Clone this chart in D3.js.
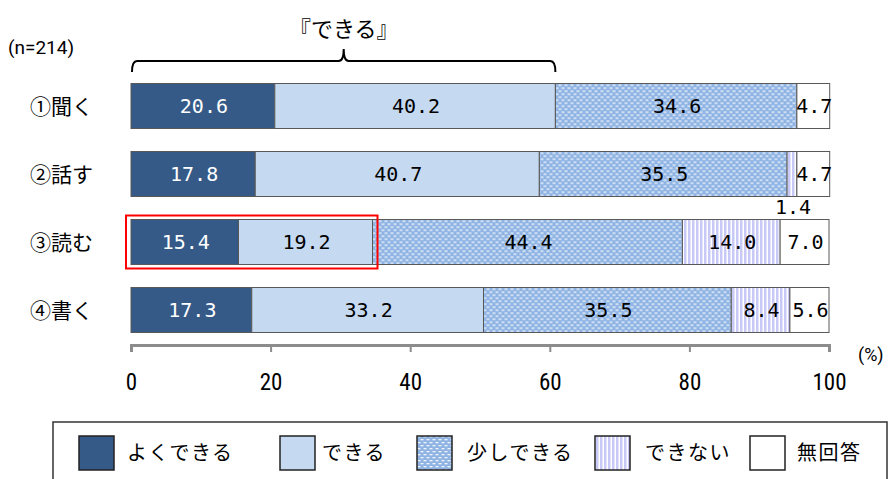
<!DOCTYPE html>
<html>
<head>
<meta charset="utf-8">
<script src="https://cdn.jsdelivr.net/npm/d3@7"></script>
<style>
  body { margin: 0; background: #fff; }
  svg { display: block; }
</style>
</head>
<body>
<div id="viz"></div>
<script>
var categories = ["①聞く", "②話す", "③読む", "④書く"];
var seriesNames = ["よくできる", "できる", "少しできる", "できない", "無回答"];
var yokuDekiru = [20.6, 17.8, 15.4, 17.3];
var dekiru = [40.2, 40.7, 19.2, 33.2];
var sukoshiDekiru = [34.6, 35.5, 44.4, 35.5];
var dekinai = [0, 1.4, 14.0, 8.4];
var mukaito = [4.7, 4.7, 7.0, 5.6];
var tickValues = [0, 20, 40, 60, 80, 100];
var sampleLabel = "(n=214)";
var braceLabel = "『できる』";

var width = 890, height = 479;
var jp = "'Noto Sans CJK JP', 'Noto Sans', sans-serif";
var num = "'DejaVu Sans Mono', monospace";

var series = [yokuDekiru, dekiru, sukoshiDekiru, dekinai, mukaito];
var fills = ["#355a87", "#c5d9f1", "url(#pDot)", "url(#pStripe)", "#ffffff"];
var textColors = ["#ffffff", "#000", "#000", "#000", "#000"];

// stack rows
var rows = categories.map(function(c, i) {
    var x0 = 0;
    return series.map(function(s, k) {
        var seg = {cat: c, k: k, v: s[i], x0: x0, x1: x0 + s[i]};
        x0 += s[i];
        return seg;
    });
});

var x = d3.scaleLinear().domain([0, 100]).range([131, 829]);
var y = d3.scalePoint().domain(categories).range([106, 310]);
var barH = 45;

var svg = d3.select("#viz").append("svg")
    .attr("width", width)
    .attr("height", height);

var defs = svg.append("defs");
var pd = defs.append("pattern").attr("id", "pDot")
    .attr("patternUnits", "userSpaceOnUse").attr("width", 6).attr("height", 6);
pd.append("rect").attr("width", 6).attr("height", 6).attr("fill", "#8fb4e3");
pd.append("rect").attr("x", 0.5).attr("y", 1).attr("width", 3).attr("height", 1.3).attr("fill", "#eef4fc");
pd.append("rect").attr("x", 3.5).attr("y", 4).attr("width", 3).attr("height", 1.3).attr("fill", "#eef4fc");
pd.append("rect").attr("x", -2.5).attr("y", 4).attr("width", 3).attr("height", 1.3).attr("fill", "#eef4fc");

var ps = defs.append("pattern").attr("id", "pStripe")
    .attr("patternUnits", "userSpaceOnUse").attr("width", 4).attr("height", 4);
ps.append("rect").attr("width", 4).attr("height", 4).attr("fill", "#ffffff");
ps.append("rect").attr("width", 2.5).attr("height", 4).attr("fill", "#c9c9f7");

svg.append("text")
    .attr("x", 8).attr("y", 47)
    .attr("dy", "0.35em")
    .style("font-family", "Roboto, sans-serif")
    .style("font-size", "19px")
    .text(sampleLabel);

// brace over よくできる + できる of row 1
var bx0 = x(0) + 1, bx1 = x(yokuDekiru[0] + dekiru[0]), bm = (bx0 + bx1) / 2;
svg.append("path")
    .attr("d", "M" + bx0 + ",72 Q" + bx0 + ",61 " + (bx0 + 5) + ",61 H" + (bm - 5) +
        " Q" + bm + ",61 " + bm + ",49 Q" + bm + ",61 " + (bm + 5) + ",61 H" + (bx1 - 5) +
        " Q" + bx1 + ",61 " + bx1 + ",72")
    .attr("fill", "none")
    .attr("stroke", "#000")
    .attr("stroke-width", 2);

svg.append("text")
    .attr("x", bm).attr("y", 29)
    .attr("dy", "0.35em")
    .attr("text-anchor", "middle")
    .style("font-family", jp)
    .style("font-size", "22px")
    .text(braceLabel);

var rowG = svg.selectAll("g.row")
    .data(rows)
    .enter().append("g")
        .attr("class", "row")
        .attr("transform", function(d) { return "translate(0," + (y(d[0].cat) - barH / 2) + ")"; });

rowG.selectAll("rect")
    .data(function(d) { return d.filter(function(s) { return s.v > 0; }); })
    .enter().append("rect")
        .attr("x", function(d) { return x(d.x0); })
        .attr("y", 0)
        .attr("width", function(d) { return x(d.x1) - x(d.x0); })
        .attr("height", barH)
        .attr("fill", function(d) { return fills[d.k]; })
        .attr("stroke", "#595959")
        .attr("stroke-width", 1);

rowG.selectAll("text.val")
    .data(function(d) { return d.filter(function(s) { return s.v > 0; }); })
    .enter().append("text")
        .attr("class", "val")
        .attr("x", function(d) { return x((d.x0 + d.x1) / 2) + 1; })
        .attr("y", function(d) { return d.v < 2 ? barH + 10 : barH / 2; })
        .attr("dy", "0.37em")
        .attr("text-anchor", "middle")
        .attr("fill", function(d) { return d.v < 2 ? "#000" : textColors[d.k]; })
        .style("font-family", num)
        .style("font-size", "20px")
        .text(function(d) { return d3.format(".1f")(d.v); });

svg.selectAll("text.cat")
    .data(categories)
    .enter().append("text")
        .attr("class", "cat")
        .attr("x", 93)
        .attr("y", function(d) { return y(d); })
        .attr("dy", "0.36em")
        .attr("text-anchor", "end")
        .style("font-family", jp)
        .style("font-size", "21px")
        .text(function(d) { return d; });

// highlight box on ③読む できる portion
svg.append("rect")
    .attr("x", x(0) - 5)
    .attr("y", y(categories[2]) - barH / 2 - 4)
    .attr("width", x(yokuDekiru[2] + dekiru[2]) - x(0) + 10)
    .attr("height", barH + 8)
    .attr("fill", "none")
    .attr("stroke", "#ff0000")
    .attr("stroke-width", 2);

var axisG = svg.append("g")
    .attr("transform", "translate(0,345)")
    .call(d3.axisBottom(x).tickValues(tickValues).tickSize(7).tickPadding(22).tickFormat(d3.format("d")));
axisG.select(".domain").attr("stroke", "#8c8c8c").attr("stroke-width", 3);
axisG.selectAll(".tick line").attr("stroke", "#8c8c8c").attr("stroke-width", 2);
axisG.selectAll(".tick text")
    .attr("fill", "#000")
    .style("font-family", "'Liberation Sans Narrow', 'Roboto Condensed', Roboto, sans-serif")
    .style("font-size", "23px");

svg.append("text")
    .attr("x", 858).attr("y", 355)
    .attr("dy", "0.35em")
    .style("font-family", "'Liberation Sans Narrow', Roboto, sans-serif")
    .style("font-size", "18px")
    .text("(%)");

// legend
var legSwatchX = [79, 280, 417, 595, 750];
var legTextX = [127, 322, 467, 645, 797];
var legFills = ["#355a87", "#c5d9f1", "url(#pDot)", "url(#pStripe)", "#ffffff"];

svg.append("rect")
    .attr("x", 53).attr("y", 422)
    .attr("width", 834).attr("height", 80)
    .attr("fill", "#fff")
    .attr("stroke", "#333")
    .attr("stroke-width", 1.5);

var leg = svg.selectAll("g.leg")
    .data(seriesNames)
    .enter().append("g")
        .attr("class", "leg");

leg.append("rect")
    .attr("x", function(d, i) { return legSwatchX[i]; })
    .attr("y", 436)
    .attr("width", 35).attr("height", 34)
    .attr("fill", function(d, i) { return legFills[i]; })
    .attr("stroke", "#222")
    .attr("stroke-width", 1.5);

leg.append("text")
    .attr("x", function(d, i) { return legTextX[i]; })
    .attr("y", 453)
    .attr("dy", "0.36em")
    .style("font-family", jp)
    .style("font-size", "20px")
    .style("letter-spacing", "1.5px")
    .text(function(d) { return d; });
</script>
</body>
</html>
